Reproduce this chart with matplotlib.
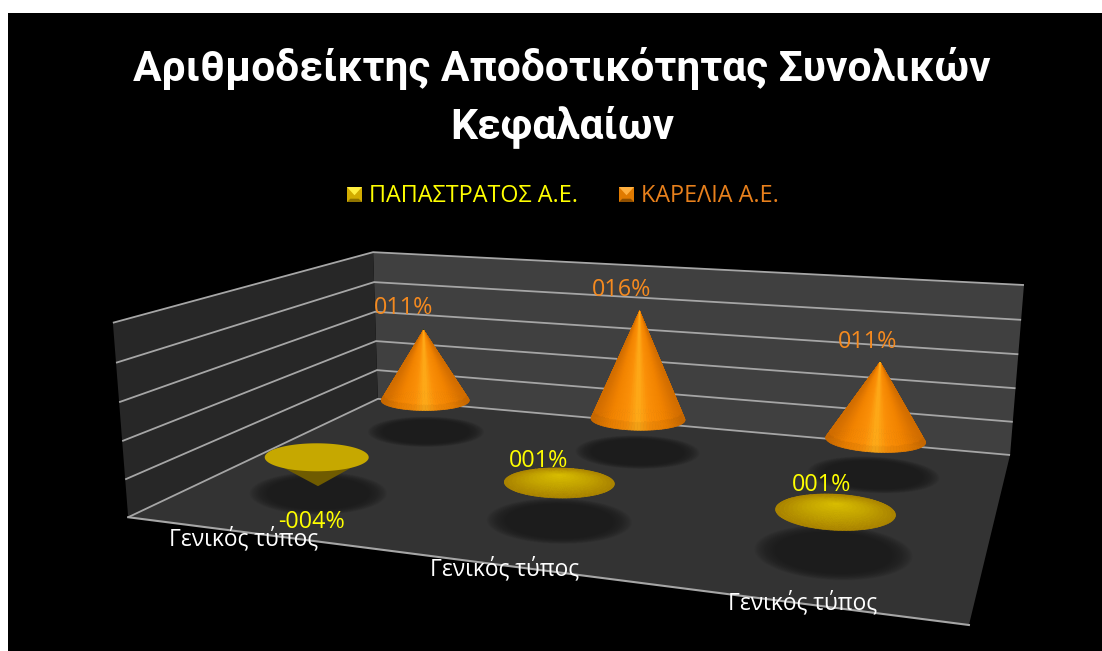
import numpy as np
import matplotlib
matplotlib.use("Agg")
import matplotlib.pyplot as plt
from matplotlib.collections import PolyCollection
from matplotlib.colors import LinearSegmentedColormap
from matplotlib.patches import Polygon, Rectangle

title_lines = ["Αριθμοδείκτης Αποδοτικότητας Συνολικών", "Κεφαλαίων"]
categories = ["Γενικός τύπος", "Γενικός τύπος", "Γενικός τύπος"]
series_names = ["ΠΑΠΑΣΤΡΑΤΟΣ Α.Ε.", "ΚΑΡΕΛΙΑ Α.Ε."]
papastratos = [-4, 1, 1]
karelia = [11, 16, 11]
value_ticks = [-5, 0, 5, 10, 15, 20]

plt.rcParams["font.family"] = ["Open Sans", "DejaVu Sans"]

fig = plt.figure(figsize=(11.02, 6.51), dpi=100, facecolor="white")
ax = fig.add_axes([0, 0, 1, 1])
ax.set_xlim(0, 1102)
ax.set_ylim(651, 0)
ax.axis("off")
ax.add_patch(Rectangle((8, 13), 1094, 638, fc="black", ec="none", zorder=0))

# camera fitted on the corners of the plot box (category, depth, value)
box_corners = [(0, 0, -5), (3, 0, -5), (0, 2, -5), (3, 2, -5), (0, 2, 20), (3, 2, 20), (0, 0, 20)]
box_pixels = [(128, 517), (969, 625), (378, 399), (1010, 455), (373, 252), (1024, 285), (113, 323)]
rows = []
for (x, y, z), (u, v) in zip(box_corners, box_pixels):
    rows.append([x, y, z, 1, 0, 0, 0, 0, -u * x, -u * y, -u * z, -u])
    rows.append([0, 0, 0, 0, x, y, z, 1, -v * x, -v * y, -v * z, -v])
camera = np.linalg.svd(np.array(rows, float))[2][-1].reshape(3, 4)


def project(x, y, z):
    pts = np.column_stack([x, y, z, np.ones(len(x))]) @ camera.T
    return pts[:, :2] / pts[:, 2:]


def point(x, y, z):
    return project(np.array([float(x)]), np.array([float(y)]), np.array([float(z)]))[0]


def quad(corners, color, zorder=1):
    c = np.array(corners, float)
    ax.add_patch(Polygon(project(c[:, 0], c[:, 1], c[:, 2]), closed=True, fc=color, ec="none", zorder=zorder))


# walls and floor
zmin, zmax = value_ticks[0], value_ticks[-1]
quad([(0, 2, zmin), (3, 2, zmin), (3, 2, zmax), (0, 2, zmax)], "#404040")
quad([(0, 0, zmin), (0, 2, zmin), (0, 2, zmax), (0, 0, zmax)], "#272727")
quad([(0, 0, zmin), (3, 0, zmin), (3, 2, zmin), (0, 2, zmin)], "#333333")

grid_color = "#a6a6a6"
for v in value_ticks:
    line = project(np.array([0, 0, 3.0]), np.array([0, 2, 2.0]), np.full(3, float(v)))
    ax.plot(line[:, 0], line[:, 1], color=grid_color, lw=1.3, zorder=2, solid_capstyle="butt")
front = project(np.array([0.0, 3.0]), np.zeros(2), np.full(2, float(zmin)))
ax.plot(front[:, 0], front[:, 1], color=grid_color, lw=1.5, zorder=2)

orange_map = LinearSegmentedColormap.from_list("o", ["#ffae1a", "#fb9008", "#f28300", "#d06c00"])
flat_map = LinearSegmentedColormap.from_list("y", ["#d8bd00", "#c4a400", "#ab8400"])


def ellipse(center, rx, ry, tilt, t):
    a = np.radians(tilt)
    ex, ey = rx * np.cos(t), ry * np.sin(t)
    return np.column_stack([center[0] + ex * np.cos(a) - ey * np.sin(a),
                            center[1] + ex * np.sin(a) + ey * np.cos(a)])


def draw_shadow(center, rx, ry, tilt):
    t = np.linspace(0, 2 * np.pi, 90)
    for scale in np.linspace(1.08, 0.8, 14):
        ring = ellipse(center, rx * scale, ry * scale, tilt, t)
        ax.add_patch(Polygon(ring, closed=True, fc="#181818", ec="none", alpha=0.09, zorder=3))


def draw_cone(base, apex, rx, ry, tilt, cmap, flat, zorder):
    n_t, n_u = 96, 14
    theta = np.linspace(0, 2 * np.pi, n_t + 1)
    u = np.linspace(0, 1, n_u + 1)
    polys, colors, keys = [], [], []
    for i in range(n_t):
        for j in range(n_u):
            tq = np.array([theta[i], theta[i + 1], theta[i + 1], theta[i]])
            uq = np.array([u[j], u[j], u[j + 1], u[j + 1]])
            rim = ellipse(base, rx, ry, tilt, tq)
            quad_px = apex + uq[:, None] * (rim - apex)
            polys.append(quad_px)
            mid_t, mid_u = tq.mean(), uq.mean()
            if flat:
                col = np.array(cmap(mid_u)[:3])
            else:
                col = np.array(cmap(abs(np.cos(mid_t)) ** 0.8)[:3])
                if mid_u > 0.96:
                    col = col * 0.95
            colors.append(col)
            keys.append(np.sin(mid_t))
    order = np.argsort(keys)
    ax.add_collection(PolyCollection([polys[k] for k in order], facecolors=[colors[k] for k in order],
                                     edgecolors=[colors[k] for k in order], linewidths=0.5, zorder=zorder))


def draw_hanging_cone(base, tip, rx, ry, tilt, zorder):
    t = np.linspace(0, 2 * np.pi, 120)
    rim = ellipse(base, rx, ry, tilt, t)
    low = rim[rim[:, 1] > base[1]]
    low = low[np.argsort(low[:, 0])]
    ax.add_patch(Polygon(np.vstack([low[0], tip, low[-1]]), closed=True, fc="#6f5b00", ec="none", zorder=zorder))
    ax.add_patch(Polygon(rim, closed=True, fc="#c6a800", ec="none", zorder=zorder + 0.1))


orange_text, yellow_text = "#f58a1f", "#ffff00"
label_size = 16.8
tilts = [0, 1, 3]
orange_radii = [(44, 10), (47, 11), (50, 12)]
yellow_radii = [(52, 14), (55, 15), (60, 18)]
orange_offsets = [(-20, -22), (-18, -21), (-13, -20)]
yellow_offsets = [(-3, 36), (-18, -14), (-11, -19)]

# rear row first, then the front row
for i, val in enumerate(karelia):
    cat = i + 0.5
    rx, ry = orange_radii[i]
    draw_shadow(point(cat, 1.5, zmin), rx * 1.22, ry * 1.4, tilts[i])
    apex = point(cat, 1.5, val)
    draw_cone(point(cat, 1.5, 0), apex, rx, ry, tilts[i], orange_map, False, 4 + i * 0.1)
    ax.text(apex[0] + orange_offsets[i][0], apex[1] + orange_offsets[i][1], f"{val:03d}%", color=orange_text,
            fontsize=label_size, ha="center", va="center", zorder=8)

for i, val in enumerate(papastratos):
    cat = i + 0.5
    nudge = np.array([3.0, 0.0])
    rx, ry = yellow_radii[i]
    draw_shadow(point(cat, 0.5, zmin) + nudge, rx * 1.22, ry * 1.4, tilts[i])
    tip = point(cat, 0.5, val) + nudge
    if val < 0:
        draw_hanging_cone(point(cat, 0.5, 0) + nudge, tip, rx, ry, tilts[i], 5)
        text = f"-{abs(val):03d}%"
    else:
        draw_cone(point(cat, 0.5, 0) + nudge, tip, rx, ry, tilts[i], flat_map, True, 5 + i * 0.1)
        text = f"{val:03d}%"
    ax.text(tip[0] + yellow_offsets[i][0] - 3, tip[1] + yellow_offsets[i][1], text, color=yellow_text,
            fontsize=label_size, ha="center", va="center", zorder=9)

# category labels
cat_shift = [(-2, 7), (0, 4), (0, -1)]
for i, name in enumerate(categories):
    pos = point(i + 0.5, 0, zmin)
    ax.text(pos[0] + cat_shift[i][0], pos[1] + cat_shift[i][1], name, color="white", fontsize=16.4,
            ha="center", va="center", zorder=8)

ax.text(562, 68, title_lines[0], color="white", fontsize=30.6, fontweight="bold", fontfamily="Roboto",
        ha="center", va="center", zorder=8)
ax.text(562, 127, title_lines[1], color="white", fontsize=30.6, fontweight="bold", fontfamily="Roboto",
        ha="center", va="center", zorder=8)


# legend with bevelled squares
def legend_key(x, y, size, light, mid, dark):
    b = size * 0.22
    c = [(x, y), (x + size, y), (x + size, y + size), (x, y + size)]
    ax.add_patch(Polygon(c, closed=True, fc=mid, ec="none", zorder=8))
    ax.add_patch(Polygon([c[0], c[1], (x + size / 2, y + size * 0.55)], closed=True, fc=light, ec="none", zorder=9))
    ax.add_patch(Polygon([c[3], c[2], (x + size - b, y + size - b), (x + b, y + size - b)], closed=True, fc=dark, ec="none", zorder=9))


legend_key(347, 187, 15, "#ffef40", "#d2ac00", "#8f7400")
legend_key(619, 187, 15, "#ffb040", "#e07a00", "#8f4f00")
ax.text(369, 195.5, series_names[0], color=yellow_text, fontsize=label_size, ha="left", va="center", zorder=8)
ax.text(641, 195.5, series_names[1], color="#e8801c", fontsize=label_size, ha="left", va="center", zorder=8)

fig.savefig("out.png", dpi=100, facecolor="white")
